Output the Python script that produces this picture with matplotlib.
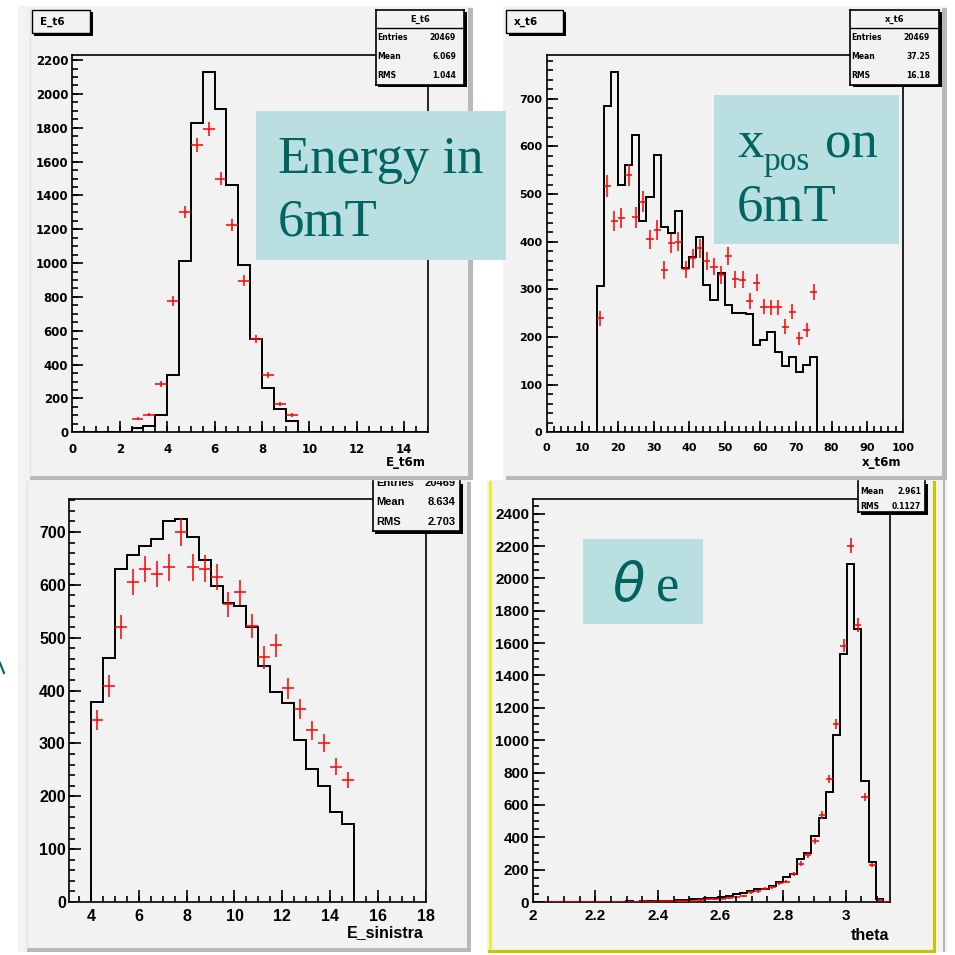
import numpy as np
import matplotlib
matplotlib.use('Agg')
import matplotlib.pyplot as plt
from matplotlib.patches import Rectangle

W = H = 955
BG = '#f2f2f2'
TEAL_BG = '#b9dfe1'
TEAL_TXT = '#006461'

# E_t6 : 30 bins in [0, 15]
e_bins = (30, 0.0, 15.0)
e_hist = [0, 0, 0, 0, 0, 25, 40, 100, 340, 1010, 1830, 2130, 1910, 1460, 990,
          550, 260, 140, 65, 0, 0, 0, 0, 0, 0, 0, 0, 0, 0, 0]
e_pts_first = 5
e_pts = [81, 104, 286, 777, 1301, 1700, 1793, 1498, 1226, 897, 552, 339, 168, 103]

# x_t6 : 50 bins in [0, 100]
x_bins = (50, 0.0, 100.0)
x_hist = [0, 0, 0, 0, 0, 0, 0,
          308, 684, 756, 519, 561, 624, 444, 493, 583, 430, 419, 465, 344, 369,
          410, 309, 278, 335, 267, 250, 250, 248, 183, 193, 211, 169, 139, 159,
          127, 141, 159,
          0, 0, 0, 0, 0, 0, 0, 0, 0, 0, 0, 0]
x_pts_first = 7
x_pts = [239, 517, 444, 449, 540, 451, 484, 405, 425, 341, 397, 400, 342, 365,
         386, 360, 348, 330, 370, 321, 320, 276, 314, 264, 262, 262, 222, 253,
         197, 215, 294]

# E_sinistra : 22 bins in [4, 15]
s_bins = (22, 4.0, 15.0)
s_hist = [379, 461, 630, 656, 673, 686, 721, 725, 690, 648, 598, 566, 561, 520,
          447, 398, 376, 306, 252, 219, 171, 148]
s_pts_first = 0
s_pts = [344, 409, 520, 605, 630, 621, 633, 701, 633, 631, 615, 563, 586, 523,
         463, 486, 404, 365, 325, 301, 256, 230]

# theta : 50 bins in [2, pi]
t_bins = (50, 2.0, np.pi)
t_hist = [2, 3, 1, 2, 0, 1, 2, 3, 1, 2, 3, 2, 3, 4, 3, 4, 5, 4, 6, 8,
          14, 10, 16, 20, 24, 22, 30, 38, 50, 58, 68, 78, 82, 96, 121, 152,
          173, 266, 303, 410, 517, 678, 1032, 1535, 2091, 1687, 750, 249, 20, 0]
t_pts_first = 0
t_pts = [1, 2, 0, 1, 2, 1, 0, 2, 1, 2, 1, 2, 3, 2, 3, 4, 3, 5, 4, 6,
         4, 8, 8, 12, 16, 16, 20, 26, 33, 39, 59, 66, 82, 90, 115, 126,
         175, 235, 290, 379, 538, 760, 1100, 1584, 2202, 1712, 647, 229, 12, 0]

fig = plt.figure(figsize=(W / 100, H / 100), dpi=100)
fig.patch.set_facecolor('white')


def layer(z):
    # full-figure axes in pixel units (y downwards), used for decoration
    a = fig.add_axes([0, 0, 1, 1], zorder=z)
    a.set_xlim(0, W)
    a.set_ylim(H, 0)
    a.axis('off')
    return a


bg = layer(-10)
mid = layer(5)
ov = layer(20)


def rect(a, x0, y0, x1, y1, **kw):
    a.add_patch(Rectangle((x0, y0), x1 - x0, y1 - y0, **kw))


# canvases
rect(bg, 18, 6, 473, 480, fc=BG, ec='none')
rect(bg, 468, 8, 473, 480, fc='#b8b8b8', ec='none')
rect(bg, 30, 476, 473, 480, fc='#b8b8b8', ec='none')
bg.plot([30, 30], [9, 476], color='#e2e2e2', lw=1)

rect(bg, 503, 6, 947, 480, fc=BG, ec='none')
rect(bg, 942, 8, 947, 480, fc='#b8b8b8', ec='none')
rect(bg, 506, 476, 947, 480, fc='#b8b8b8', ec='none')

rect(bg, 18, 480, 471, 952, fc=BG, ec='none')
bg.plot([27, 27], [482, 948], color='#e2e2e2', lw=1)
rect(bg, 467, 482, 471, 952, fc='#b8b8b8', ec='none')
rect(bg, 27, 948, 471, 952, fc='#b8b8b8', ec='none')

rect(bg, 487, 480, 947, 952, fc=BG, ec='none')
rect(bg, 942.5, 480, 945, 952, fc='#b8b8b8', ec='none')
bg.plot([489.5, 489.5], [482, 951], color='#eeee30', lw=2.2)
bg.plot([489, 934], [950.5, 950.5], color='#c8c400', lw=2.2)
bg.plot([933.5, 933.5], [482, 951], color='#c8c400', lw=2.2)
# piece of an arrow from the slide behind
bg.plot([0, 4], [663, 673], color=TEAL_TXT, lw=1.5)


def panel(box, bins, hist, pts_first, pts, xlim, ylim, xt, xm, yt, ym,
          fsize, family, xpad, ypad, maj_px, min_px):
    x0, y0, x1, y1 = box
    ax = fig.add_axes([x0 / W, 1 - y1 / H, (x1 - x0) / W, (y1 - y0) / H])
    ax.set_facecolor('none')
    n, lo, hi = bins
    edges = np.linspace(lo, hi, n + 1)
    ax.stairs(hist, edges, color='black', lw=1.4, baseline=0, zorder=3)
    centres = 0.5 * (edges[:-1] + edges[1:])
    hw = 0.5 * (hi - lo) / n
    px = centres[pts_first:pts_first + len(pts)]
    py = np.array(pts, dtype=float)
    ax.errorbar(px, py, xerr=hw, yerr=np.sqrt(py), fmt='none', ecolor='red',
                elinewidth=1.1, capsize=0, zorder=4)
    ax.set_xlim(*xlim)
    ax.set_ylim(*ylim)
    lab = dict(fontsize=fsize, fontweight='bold', fontfamily=family)
    ax.set_xticks(xt, labels=['%g' % round(v, 3) for v in xt], **lab)
    ax.set_yticks(yt, labels=['%g' % v for v in yt], **lab)
    ax.tick_params(axis='x', length=0, pad=xpad)
    ax.tick_params(axis='y', length=0, pad=ypad)
    # ROOT style inner tick marks (left and bottom only), in data units
    xa, xb = xlim
    ya, yb = ylim
    dy = (yb - ya) / (y1 - y0)   # data units per pixel, vertical
    dx = (xb - xa) / (x1 - x0)   # data units per pixel, horizontal
    tk = dict(colors='black', linewidths=1.2, zorder=5)
    ax.vlines(xt, ya, ya + maj_px * dy, **tk)
    ax.vlines(xm, ya, ya + min_px * dy, **tk)
    ax.hlines(yt, xa, xa + maj_px * dx, **tk)
    ax.hlines(ym, xa, xa + min_px * dx, **tk)
    ax.set_xlim(*xlim)
    ax.set_ylim(*ylim)
    for s in ax.spines.values():
        s.set_linewidth(1.2)
        s.set_color('black')
    return ax


TOPF = 'DejaVu Sans'
BOTF = 'Liberation Sans'

panel((72.3, 55, 428, 432.3), e_bins, e_hist, e_pts_first, e_pts,
      (0, 15), (0, 2230), np.arange(0, 15, 2), np.arange(0, 15.01, 0.5),
      np.arange(0, 2201, 200), np.arange(0, 2230, 50), 8.5, TOPF, 8, 3, 11, 6)
panel((546.7, 55, 902.7, 432.3), x_bins, x_hist, x_pts_first, x_pts,
      (0, 100), (0, 792), np.arange(0, 101, 10), np.arange(0, 101, 2),
      np.arange(0, 701, 100), np.arange(0, 792, 20), 8, TOPF, 8, 3, 11, 6)
panel((69.3, 499.3, 426, 902), s_bins, s_hist, s_pts_first, s_pts,
      (3.1, 18), (0, 762), np.arange(4, 18.01, 2), np.arange(3.5, 18.01, 0.5),
      np.arange(0, 701, 100), np.arange(0, 762, 20), 11.5, BOTF, 5, 2.5, 12, 6)
panel((532.7, 499.3, 890, 902), t_bins, t_hist, t_pts_first, t_pts,
      (2, np.pi), (0, 2489), np.arange(2, 3.01, 0.2), np.arange(2, 3.14, 0.05),
      np.arange(0, 2401, 200), np.arange(0, 2489, 50), 11, BOTF, 5, 2.5, 12, 6)

# axis titles
ov.text(426, 462, 'E_t6m', ha='right', va='center', fontsize=8.5,
        fontweight='bold', family=TOPF)
ov.text(901, 462, 'x_t6m', ha='right', va='center', fontsize=8.5,
        fontweight='bold', family=TOPF)
ov.text(424, 933, 'E_sinistra', ha='right', va='center', fontsize=11.5,
        fontweight='bold', family=BOTF)
ov.text(889, 935, 'theta', ha='right', va='center', fontsize=11.5,
        fontweight='bold', family=BOTF)

# histogram title boxes
for (bx0, bx1, name) in [(31.7, 90, 'E_t6'), (506, 563.3, 'x_t6')]:
    rect(mid, bx0 + 2.5, 12.5, bx1 + 2.5, 35.8, fc='black', ec='none')
    rect(mid, bx0, 10, bx1, 33.3, fc=BG, ec='black', lw=1.0)
    mid.text(bx0 + 8, 22, name, ha='left', va='center', fontsize=7.5,
             fontweight='bold', family=TOPF)


# stats boxes
def statbox(x0, y0, x1, y1, rows, fs, family, lx, rx, cut=False, title=None,
            title_y=None, sep_y=None):
    rect(mid, x0 + 2.5, y0 + 2.5, x1 + 2.5, y1 + 2.5, fc='black', ec='none')
    sax = fig.add_axes([x0 / W, 1 - y1 / H, (x1 - x0) / W, (y1 - y0) / H],
                       zorder=6)
    sax.set_xlim(x0, x1)
    sax.set_ylim(y1, y0)
    sax.set_xticks([])
    sax.set_yticks([])
    sax.set_facecolor(BG)
    for s in sax.spines.values():
        s.set_linewidth(1.2)
        s.set_color('black')
    if cut:
        sax.spines['top'].set_visible(False)
    if title is not None:
        sax.text((x0 + x1) / 2, title_y, title, ha='center', va='center',
                 fontsize=fs + 0.5, fontweight='bold', family=family,
                 clip_on=True)
        sax.axhline(sep_y, color='black', lw=1.0)
    for (ry, name, val) in rows:
        sax.text(lx, ry, name, ha='left', va='center', fontsize=fs,
                 fontweight='bold', family=family, clip_on=True)
        sax.text(rx, ry, val, ha='right', va='center', fontsize=fs,
                 fontweight='bold', family=family, clip_on=True)


statbox(375.7, 10, 464, 85, [(37.7, 'Entries', '20469'), (56.7, 'Mean', '6.069'),
                             (76, 'RMS', '1.044')], 5.5, TOPF, 377, 456,
        title='E_t6', title_y=19, sep_y=28.3)
statbox(850, 10, 939.3, 85, [(37.7, 'Entries', '20469'), (56.7, 'Mean', '37.25'),
                             (76, 'RMS', '16.18')], 5.5, TOPF, 851, 930,
        title='x_t6', title_y=19, sep_y=28.3)
statbox(372.7, 481, 460, 531, [(482.7, 'Entries', '20469'), (501.7, 'Mean', '8.634'),
                               (521.7, 'RMS', '2.703')], 8, BOTF, 376, 456,
        cut=True)
statbox(858, 481, 925, 512, [(476.7, 'Entries', '20469'), (491.7, 'Mean', '2.961'),
                             (506.7, 'RMS', '0.1127')], 5.5, TOPF, 860, 921,
        cut=True)

# slide annotations
rect(ov, 256, 111, 506, 260, fc=TEAL_BG, ec='none')
ov.text(278, 173, 'Energy in', ha='left', va='baseline', fontsize=38,
        family='Liberation Serif', color=TEAL_TXT)
ov.text(278, 235, '6mT', ha='left', va='baseline', fontsize=38,
        family='Liberation Serif', color=TEAL_TXT)

rect(ov, 714, 95, 899, 244, fc=TEAL_BG, ec='none')
ov.text(737, 157, 'x', ha='left', va='baseline', fontsize=38,
        family='Liberation Serif', color=TEAL_TXT)
ov.text(763, 170, 'pos', ha='left', va='baseline', fontsize=24,
        family='Liberation Serif', color=TEAL_TXT)
ov.text(825, 157, 'on', ha='left', va='baseline', fontsize=38,
        family='Liberation Serif', color=TEAL_TXT)
ov.text(737, 220, '6mT', ha='left', va='baseline', fontsize=38,
        family='Liberation Serif', color=TEAL_TXT)

rect(ov, 583, 539, 703, 624, fc=TEAL_BG, ec='none')
ov.text(613, 601, '\u03b8', ha='left', va='baseline', fontsize=38,
        family='DejaVu Sans', style='italic', color=TEAL_TXT)
ov.text(656, 601, 'e', ha='left', va='baseline', fontsize=38,
        family='Liberation Serif', color=TEAL_TXT)

fig.savefig('out.png', dpi=100, facecolor='white')
